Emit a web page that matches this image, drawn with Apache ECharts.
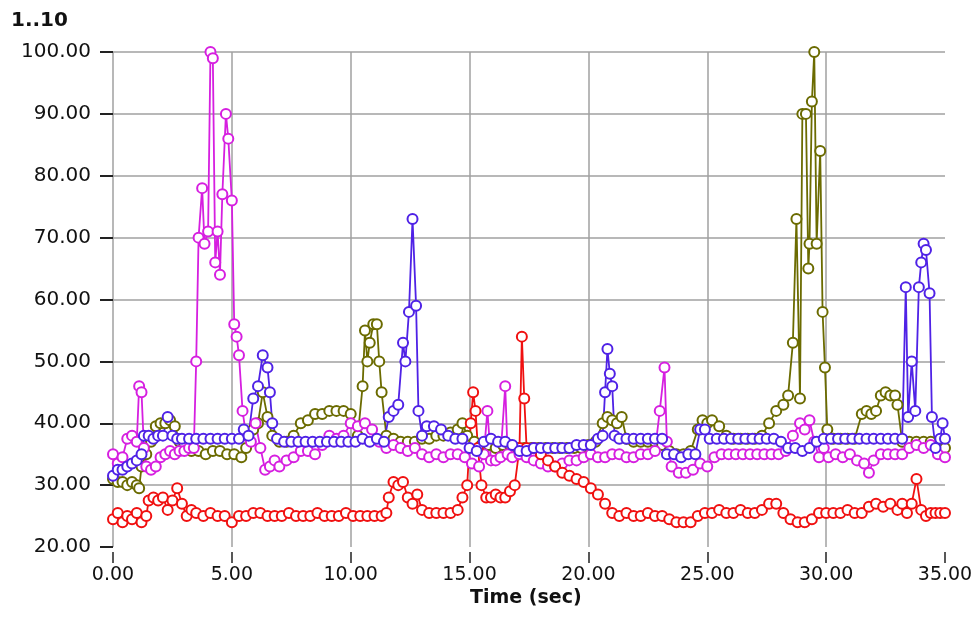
<!DOCTYPE html>
<html>
<head>
<meta charset="utf-8">
<script src="https://cdn.jsdelivr.net/npm/echarts@6/dist/echarts.min.js"></script>
<style>
html,body{margin:0;padding:0;background:#fff;}
#chart{width:977px;height:633px;}
</style>
</head>
<body>
<div id="chart"></div>
<script>
// ---- data (time in sec, value) ----
const xTicks = [0, 5, 10, 15, 20, 25, 30, 35];
const yTicks = [20, 30, 40, 50, 60, 70, 80, 90, 100];

const redSeries = [[0,24.5],[0.2,25.5],[0.4,24],[0.6,25],[0.8,24.5],[1.0,25.5],[1.2,24],[1.4,25],[1.5,27.5],[1.7,28],[1.9,27.5],[2.1,28],[2.3,26],[2.5,27.5],[2.7,29.5],[2.9,27],[3.1,25],[3.3,26],[3.5,25.5],[3.8,25],[4.1,25.5],[4.4,25],[4.7,25],[5.0,24],[5.3,25],[5.6,25],[5.9,25.5],[6.2,25.5],[6.5,25],[6.8,25],[7.1,25],[7.4,25.5],[7.7,25],[8.0,25],[8.3,25],[8.6,25.5],[8.9,25],[9.2,25],[9.5,25],[9.8,25.5],[10.1,25],[10.4,25],[10.7,25],[11.0,25],[11.3,25],[11.5,25.5],[11.6,28],[11.8,30.5],[12.0,30],[12.2,30.5],[12.4,28],[12.6,27],[12.8,28.5],[13.0,26],[13.3,25.5],[13.6,25.5],[13.9,25.5],[14.2,25.5],[14.5,26],[14.7,28],[14.9,30],[15.05,40],[15.15,45],[15.25,42],[15.35,36],[15.5,30],[15.7,28],[15.9,28],[16.1,28.5],[16.3,28],[16.5,28],[16.7,29],[16.9,30],[17.1,36],[17.2,54],[17.3,44],[17.4,36],[17.7,36],[18.0,35],[18.3,34],[18.6,33],[18.9,32],[19.2,31.5],[19.5,31],[19.8,30.5],[20.1,29.5],[20.4,28.5],[20.7,27],[21.0,25.5],[21.3,25],[21.6,25.5],[21.9,25],[22.2,25],[22.5,25.5],[22.8,25],[23.1,25],[23.4,24.5],[23.7,24],[24.0,24],[24.3,24],[24.6,25],[24.9,25.5],[25.2,25.5],[25.5,26],[25.8,25.5],[26.1,25.5],[26.4,26],[26.7,25.5],[27.0,25.5],[27.3,26],[27.6,27],[27.9,27],[28.2,25.5],[28.5,24.5],[28.8,24],[29.1,24],[29.4,24.5],[29.7,25.5],[30.0,25.5],[30.3,25.5],[30.6,25.5],[30.9,26],[31.2,25.5],[31.5,25.5],[31.8,26.5],[32.1,27],[32.4,26.5],[32.7,27],[33.0,26],[33.2,27],[33.4,25.5],[33.6,27],[33.8,31],[34.0,26],[34.2,25],[34.4,25.5],[34.6,25.5],[34.8,25.5],[35,25.5]];

const magentaSeries = [[0,35],[0.2,33.5],[0.4,34.5],[0.6,37.5],[0.8,38],[1.0,37],[1.1,46],[1.2,45],[1.3,36],[1.4,33],[1.6,32.5],[1.8,33],[2.0,34.5],[2.2,35],[2.4,35.5],[2.6,35],[2.8,35.5],[3.0,35.5],[3.2,36],[3.4,36],[3.5,50],[3.6,70],[3.75,78],[3.85,69],[4.0,71],[4.1,100],[4.2,99],[4.3,66],[4.4,71],[4.5,64],[4.6,77],[4.75,90],[4.85,86],[5.0,76],[5.1,56],[5.2,54],[5.3,51],[5.45,42],[5.6,38],[5.8,37],[6.0,40],[6.2,36],[6.4,32.5],[6.6,33],[6.8,34],[7.0,33],[7.3,34],[7.6,34.5],[7.9,35.5],[8.2,35.5],[8.5,35],[8.8,36.5],[9.1,38],[9.4,37.5],[9.7,38],[10.0,40],[10.3,39.5],[10.6,40],[10.9,39],[11.2,37],[11.5,36],[11.8,36.5],[12.1,36],[12.4,35.5],[12.7,36],[13.0,35],[13.3,34.5],[13.6,35],[13.9,34.5],[14.2,35],[14.5,35],[14.8,34.5],[15.1,33.5],[15.4,33],[15.6,35],[15.75,42],[15.9,34],[16.1,34],[16.3,34.5],[16.5,46],[16.6,35],[16.8,34.5],[17.1,35],[17.4,34.5],[17.7,34],[18.0,33.5],[18.3,33],[18.6,33],[18.9,33.5],[19.2,34],[19.5,34],[19.8,34.5],[20.1,35],[20.4,34.5],[20.7,34.5],[21.0,35],[21.3,35],[21.6,34.5],[21.9,34.5],[22.2,35],[22.5,35],[22.8,35.5],[23.0,42],[23.2,49],[23.3,37],[23.5,33],[23.8,32],[24.1,32],[24.4,32.5],[24.7,33.5],[25.0,33],[25.3,34.5],[25.6,35],[25.9,35],[26.2,35],[26.5,35],[26.8,35],[27.1,35],[27.4,35],[27.7,35],[28.0,35],[28.3,35.5],[28.6,38],[28.9,40],[29.1,39],[29.3,40.5],[29.5,37],[29.7,34.5],[29.9,36],[30.1,34.5],[30.4,35],[30.7,34.5],[31.0,35],[31.3,34],[31.6,33.5],[31.8,32],[32.0,34],[32.3,35],[32.6,35],[32.9,35],[33.2,35],[33.5,36],[33.8,36.5],[34.1,36],[34.4,36.5],[34.7,35],[35,34.5]];

const blueSeries = [[0,31.5],[0.2,32.5],[0.4,32.5],[0.6,33],[0.8,33.5],[1.0,34],[1.2,35],[1.3,38],[1.5,38],[1.7,37.5],[1.9,38],[2.1,38],[2.3,41],[2.5,38],[2.7,37.5],[2.9,37.5],[3.2,37.5],[3.5,37.5],[3.8,37.5],[4.1,37.5],[4.4,37.5],[4.7,37.5],[5.0,37.5],[5.3,37.5],[5.5,39],[5.7,38],[5.9,44],[6.1,46],[6.3,51],[6.5,49],[6.6,45],[6.7,40],[6.9,37.5],[7.2,37],[7.5,37],[7.8,37],[8.1,37],[8.4,37],[8.7,37],[9.0,37],[9.3,37],[9.6,37],[9.9,37],[10.2,37],[10.5,37.5],[10.8,37],[11.1,37.5],[11.4,37],[11.6,41],[11.8,42],[12.0,43],[12.2,53],[12.3,50],[12.45,58],[12.6,73],[12.75,59],[12.85,42],[13.0,38],[13.2,39.5],[13.5,39.5],[13.8,39],[14.1,38],[14.4,37.5],[14.7,37.5],[15.0,36],[15.3,35.5],[15.6,37],[15.9,37.5],[16.2,37],[16.5,37],[16.8,36.5],[17.1,35.5],[17.4,35.5],[17.7,36],[18.0,36],[18.3,36],[18.6,36],[18.9,36],[19.2,36],[19.5,36.5],[19.8,36.5],[20.1,36.5],[20.4,37.5],[20.6,38],[20.7,45],[20.8,52],[20.9,48],[21.0,46],[21.1,38],[21.3,37.5],[21.6,37.5],[21.9,37.5],[22.2,37.5],[22.5,37.5],[22.8,37.5],[23.1,37.5],[23.3,35],[23.6,35],[23.9,34.5],[24.2,35],[24.5,35],[24.7,39],[24.9,39],[25.1,37.5],[25.4,37.5],[25.7,37.5],[26.0,37.5],[26.3,37.5],[26.6,37.5],[26.9,37.5],[27.2,37.5],[27.5,37.5],[27.8,37.5],[28.1,37],[28.4,36],[28.7,36],[29.0,35.5],[29.3,36],[29.6,37],[29.9,37.5],[30.2,37.5],[30.5,37.5],[30.8,37.5],[31.1,37.5],[31.4,37.5],[31.7,37.5],[32.0,37.5],[32.3,37.5],[32.6,37.5],[32.9,37.5],[33.2,37.5],[33.35,62],[33.45,41],[33.6,50],[33.75,42],[33.9,62],[34.0,66],[34.1,69],[34.2,68],[34.35,61],[34.45,41],[34.6,36],[34.8,37.5],[34.9,40],[35,37.5]];

const oliveSeries = [[0,31],[0.2,30.5],[0.4,30.5],[0.6,30],[0.8,30.5],[1.0,30],[1.1,29.5],[1.2,33],[1.4,35],[1.6,37],[1.8,39.5],[2.0,40],[2.2,40],[2.4,40.5],[2.6,39.5],[2.8,37],[3.0,36.5],[3.3,35.5],[3.6,35.5],[3.9,35],[4.2,35.5],[4.5,35.5],[4.8,35],[5.1,35],[5.4,34.5],[5.6,36],[5.9,39],[6.1,40],[6.3,45],[6.5,41],[6.7,38],[7.0,37],[7.3,37],[7.6,38],[7.9,40],[8.2,40.5],[8.5,41.5],[8.8,41.5],[9.1,42],[9.4,42],[9.7,42],[10.0,41.5],[10.3,38],[10.5,46],[10.6,55],[10.7,50],[10.8,53],[10.95,56],[11.1,56],[11.2,50],[11.3,45],[11.5,38],[11.8,37.5],[12.1,37],[12.4,37],[12.7,37],[13.0,37.5],[13.3,37.5],[13.6,38],[13.9,38],[14.2,38.5],[14.5,39],[14.7,40],[14.9,38],[15.2,37],[15.5,36.5],[15.8,36.5],[16.1,36],[16.4,36.5],[16.7,36.5],[17.0,36],[17.3,36],[17.6,36],[17.9,36],[18.2,36],[18.5,36],[18.8,36],[19.1,36],[19.4,36],[19.7,36],[20.0,36.5],[20.3,37],[20.6,40],[20.8,41],[21.0,40.5],[21.2,40],[21.4,41],[21.6,37.5],[21.9,37],[22.2,37],[22.5,37],[22.8,37],[23.1,36.5],[23.4,35.5],[23.7,35],[24.0,35],[24.3,35.5],[24.6,39],[24.8,40.5],[25.0,40],[25.2,40.5],[25.5,39.5],[25.8,38],[26.1,37.5],[26.4,37.5],[26.7,37.5],[27.0,37.5],[27.3,38],[27.6,40],[27.9,42],[28.2,43],[28.4,44.5],[28.6,53],[28.75,73],[28.9,44],[29.0,90],[29.15,90],[29.25,65],[29.3,69],[29.4,92],[29.5,100],[29.6,69],[29.75,84],[29.85,58],[29.95,49],[30.05,39],[30.3,37.5],[30.6,37.5],[30.9,37.5],[31.2,37.5],[31.5,41.5],[31.7,42],[31.9,41.5],[32.1,42],[32.3,44.5],[32.5,45],[32.7,44.5],[32.9,44.5],[33.0,43],[33.2,37],[33.5,37],[33.8,37],[34.1,37],[34.4,37],[34.7,36],[35,36]];

const titleText = '1..10';
const xName = 'Time (sec)';

// ---- chart ----
const chart = echarts.init(document.getElementById('chart'), null, {renderer: 'canvas'});
const FONT = 'DejaVu Sans';
function mkSeries(name, data, color) {
  return {
    name: name, type: 'line', data: data,
    showSymbol: true, showAllSymbol: true,
    symbol: 'emptyCircle', symbolSize: 10,
    itemStyle: {color: color, borderColor: color, borderWidth: 2.2},
    lineStyle: {color: color, width: 1.8},
    emphasis: {disabled: true},
    clip: true
  };
}
const gridColor = '#a0a0a0';
chart.setOption({
  animation: false,
  backgroundColor: '#ffffff',
  grid: {left: 113, right: 32, top: 52, bottom: 86, containLabel: false},
  title: {
    text: titleText, left: 6, top: 6,
    textStyle: {fontFamily: FONT, fontSize: 20, fontWeight: 'bold', color: '#111'}
  },
  graphic: [{
    type: 'text', left: 470, top: 589,
    style: {text: xName, fontFamily: FONT, fontSize: 19, fontWeight: 'bold', fill: '#111'}
  }],
  xAxis: {
    type: 'value', min: xTicks[0], max: xTicks[xTicks.length - 1], interval: 5,
    offset: 5,
    axisLine: {show: false},
    axisTick: {show: true, length: 11, lineStyle: {color: '#222', width: 1.5}},
    axisLabel: {margin: 14, fontFamily: FONT, fontSize: 19, color: '#111',
      formatter: v => v.toFixed(2)},
    splitLine: {show: true, lineStyle: {color: [gridColor, gridColor, gridColor, gridColor, gridColor, gridColor, gridColor, 'rgba(0,0,0,0)'], width: 1.5}}
  },
  yAxis: {
    type: 'value', min: yTicks[0], max: yTicks[yTicks.length - 1], interval: 10,
    offset: 5,
    axisLine: {show: false},
    axisTick: {show: true, length: 13, lineStyle: {color: '#222', width: 2}},
    axisLabel: {margin: 17, fontFamily: FONT, fontSize: 20, color: '#111',
      formatter: v => v.toFixed(2)},
    splitLine: {show: true, lineStyle: {color: ['rgba(0,0,0,0)', gridColor, gridColor, gridColor, gridColor, gridColor, gridColor, gridColor, gridColor], width: 1.5}}
  },
  series: [
    mkSeries('olive', oliveSeries, '#6b6b00'),
    mkSeries('magenta', magentaSeries, '#d61fe0'),
    mkSeries('red', redSeries, '#f01010'),
    mkSeries('blue', blueSeries, '#4f22e6')
  ]
});
</script>
</body>
</html>
